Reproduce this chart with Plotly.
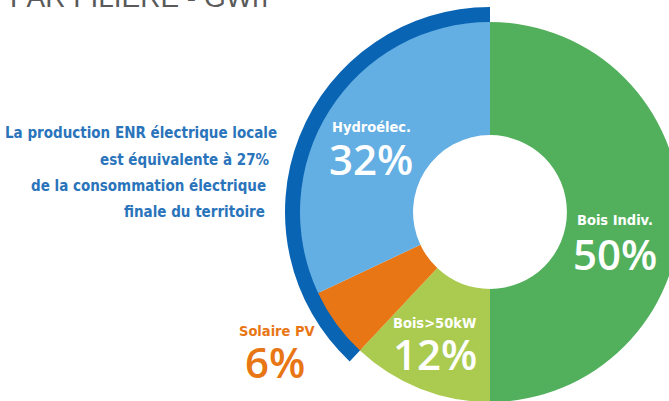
import plotly.graph_objects as go

# ---- data ----
categories = ["Bois Indiv.", "Bois>50kW", "Solaire PV", "Hydroélec."]
shares = [50, 12, 6, 32]
colors = ["#52b05c", "#aacb50", "#e87614", "#63aee2"]
title_text = "PAR FILIÈRE - GWh"
note_lines = [
    "La production ENR électrique locale",
    "est équivalente à 27%",
    "de la consommation électrique",
    "finale du territoire",
]

W, H = 700, 420


def fx(px):
    return px / W


def fy(py):
    return 1 - py / H


elec = shares[2] + shares[3]
other = shares[0] + shares[1]

fig = go.Figure()

# dark blue arc marking the electric share
fig.add_trace(go.Pie(
    values=[other, elec],
    labels=["autre", "électrique"],
    marker=dict(colors=["rgba(0,0,0,0)", "#0a64b4"], line=dict(width=0)),
    hole=0.915,
    sort=False, direction="clockwise", rotation=0,
    textinfo="none", hoverinfo="skip", showlegend=False,
    domain=dict(x=[fx(285), fx(695)], y=[fy(417), fy(7)]),
))

# main donut
fig.add_trace(go.Pie(
    values=shares,
    labels=categories,
    marker=dict(colors=colors, line=dict(width=0)),
    hole=0.405,
    sort=False, direction="clockwise", rotation=0,
    textinfo="none", hoverinfo="skip", showlegend=False,
    domain=dict(x=[fx(300), fx(680)], y=[fy(402), fy(22)]),
))

cond = "DejaVu Sans Condensed, Liberation Sans Narrow, sans-serif"
big = "Open Sans, Noto Sans, sans-serif"

label_pos = [(615, 220, 615, 254), (434, 323, 435, 353), (277, 331, 275, 361), (371, 127, 371, 158)]
label_col = ["white", "white", "#e87614", "white"]

ann = []
for name, v, (nx, ny, px_, py_), c in zip(categories, shares, label_pos, label_col):
    ann.append(dict(x=fx(nx), y=fy(ny), xref="paper", yref="paper", text=name,
                    showarrow=False, xanchor="center", yanchor="middle",
                    font=dict(family=cond, size=14.5, color=c, weight="bold")))
    ann.append(dict(x=fx(px_), y=fy(py_), xref="paper", yref="paper", text=f"{v}%",
                    showarrow=False, xanchor="center", yanchor="middle",
                    font=dict(family=big, size=42, color=c, weight=600)))

note_right = [279, 272, 268, 267]
note_y = [133, 160, 186, 212]
for t, rx, ry in zip(note_lines, note_right, note_y):
    ann.append(dict(x=fx(rx), y=fy(ry), xref="paper", yref="paper", text=t,
                    showarrow=False, xanchor="right", yanchor="middle",
                    font=dict(family=cond, size=15, color="#2a74bb", weight="bold")))

ann.append(dict(x=fx(8), y=fy(-3), xref="paper", yref="paper", text=title_text,
                showarrow=False, xanchor="left", yanchor="middle",
                font=dict(family="Liberation Sans, Arial, sans-serif", size=28, color="#5a5a5a")))

fig.update_layout(
    width=W, height=H,
    margin=dict(l=0, r=0, t=0, b=0),
    paper_bgcolor="white", plot_bgcolor="white",
    annotations=ann,
)

fig.write_html(
    "out.html",
    config=dict(displayModeBar=False),
    post_script="document.body.style.margin='0';document.body.style.overflow='hidden';document.documentElement.style.overflow='hidden';",
)
